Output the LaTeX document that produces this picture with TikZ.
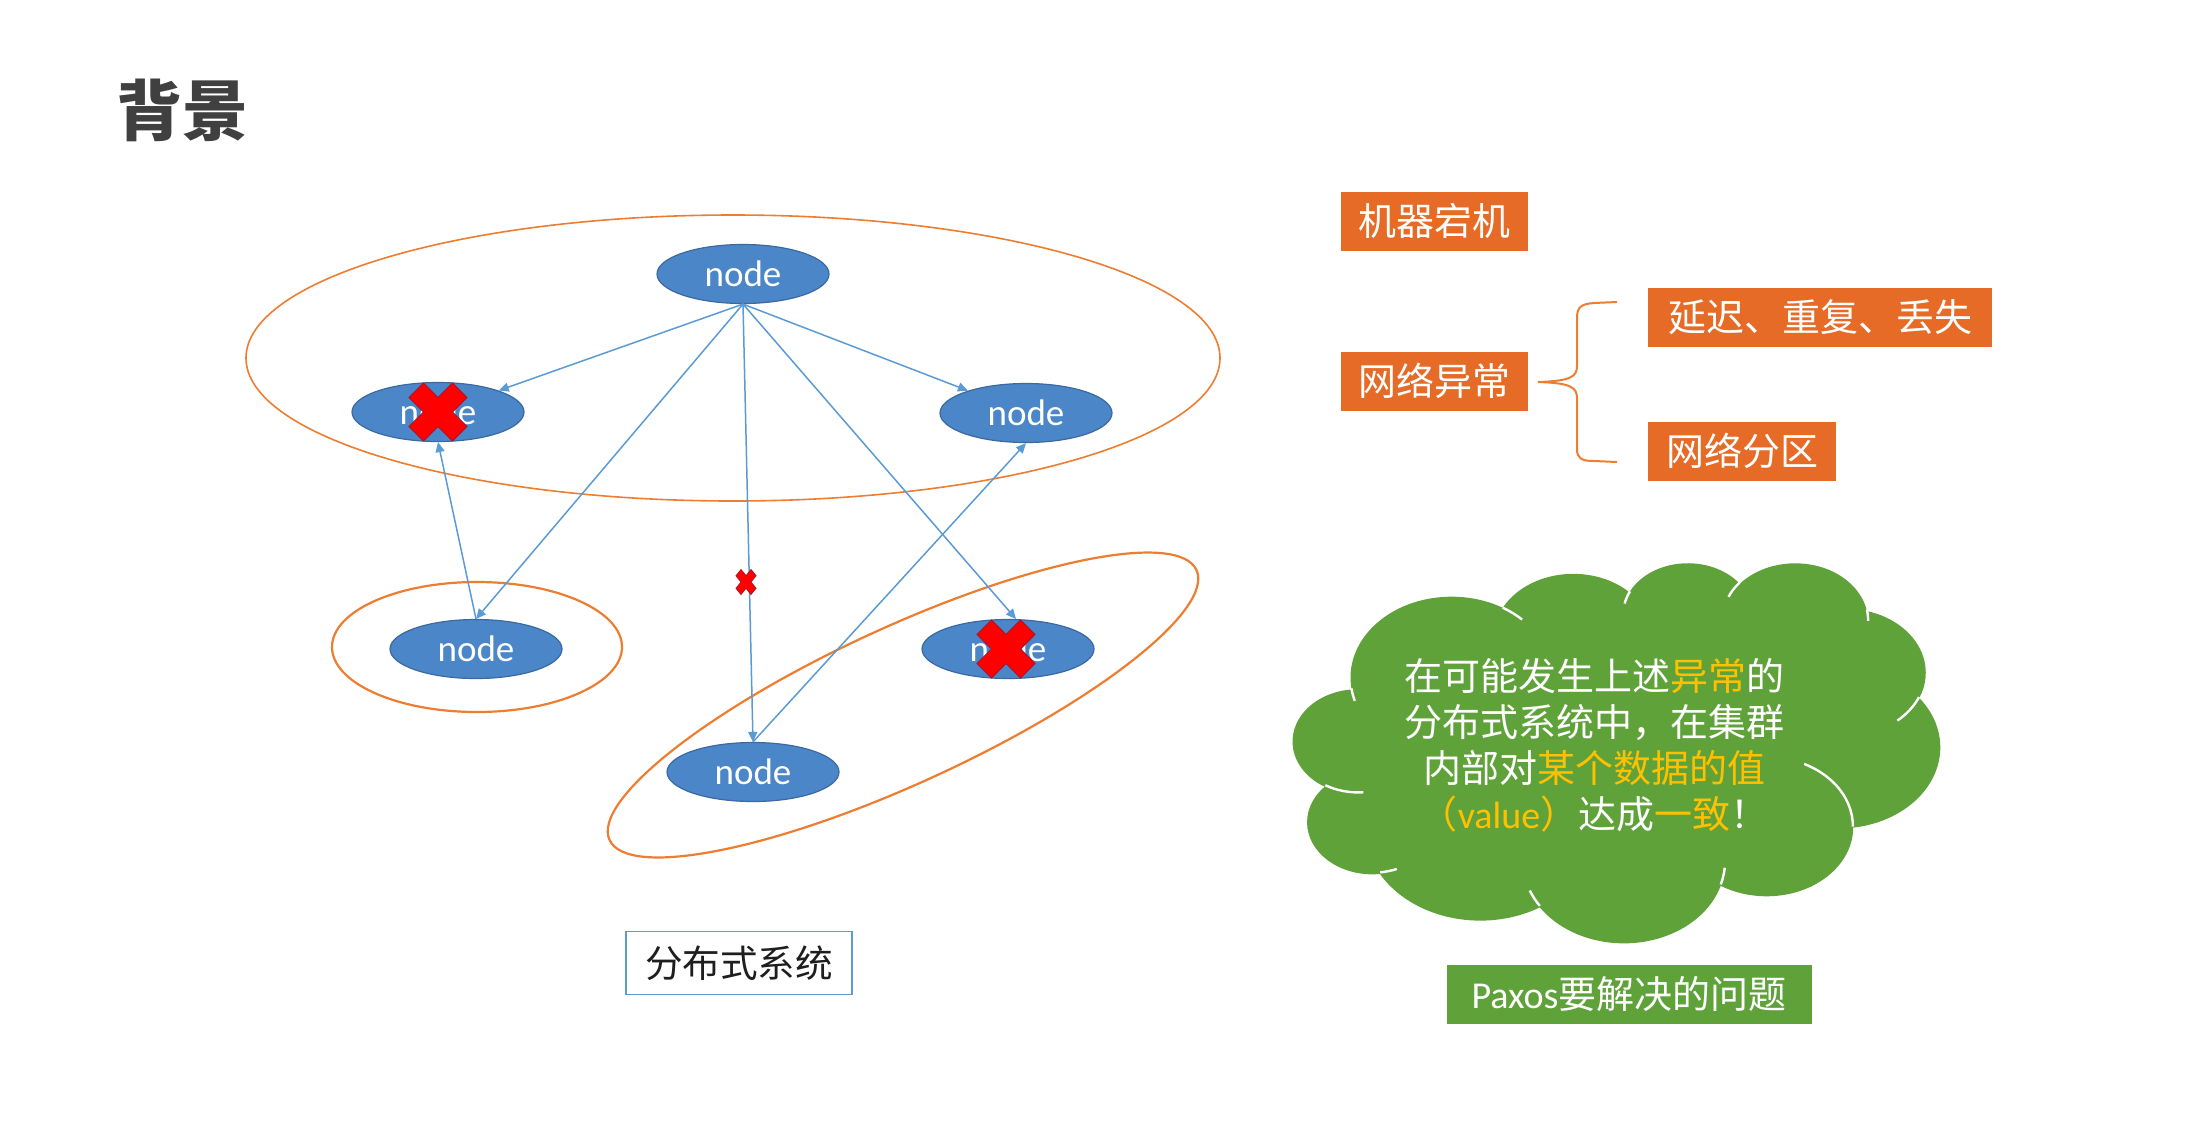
\documentclass[tikz,border=0pt]{standalone}
\usepackage{fontspec}
\setmainfont{Carlito}
\newfontfamily\lat{Carlito}
\newfontfamily\cjk{Noto Sans CJK SC}
\usetikzlibrary{shapes.geometric,arrows.meta}
\definecolor{nodeblue}{RGB}{74,134,200}
\definecolor{nodeedge}{RGB}{60,105,160}
\definecolor{linkblue}{RGB}{91,155,213}
\definecolor{ringorange}{RGB}{237,125,49}
\definecolor{boxorange}{RGB}{229,107,38}
\definecolor{cloudgreen}{RGB}{96,162,58}
\definecolor{hiyellow}{RGB}{255,192,0}
\definecolor{xred}{RGB}{255,0,0}
\definecolor{xedge}{RGB}{170,20,40}
\definecolor{titlegray}{RGB}{64,64,64}
\tikzset{
  ndnode/.style={ellipse, fill=nodeblue, draw=nodeedge, line width=0.6pt,
    minimum width=86pt, minimum height=29.5pt, inner sep=0pt, text=white,
    font=\lat\fontsize{18.5}{20}\selectfont},
  link/.style={draw=linkblue, line width=0.75pt, -{Triangle[length=5pt,width=4.5pt]}},
  ring/.style={draw=ringorange, line width=1.1pt},
  obox/.style={fill=boxorange, text=white, font=\cjk\fontsize{19}{22}\selectfont,
    minimum height=29.5pt, inner sep=0pt},
  gbox/.style={fill=cloudgreen, text=white, font=\fontsize{19}{22}\selectfont,
    minimum height=29.5pt, inner sep=0pt},
  bracestyle/.style={draw=ringorange, line width=1pt},
  xshape/.pic={\filldraw[fill=xred, draw=xedge, line width=0.4pt]
    (-1,-0.5) -- (-0.5,-1) -- (0,-0.5) -- (0.5,-1) -- (1,-0.5) -- (0.5,0) --
    (1,0.5) -- (0.5,1) -- (0,0.5) -- (-0.5,1) -- (-1,0.5) -- (-0.5,0) -- cycle;}
}
\begin{document}
\begin{tikzpicture}[x=0.5pt, y=-0.5pt]
\useasboundingbox (0,0) rectangle (2204,1136);
\fill[white] (0,0) rectangle (2204,1136);

% title
\node[text=titlegray, font=\cjk\bfseries\fontsize{33}{36}\selectfont] (title) at (182,110) {背景};

% group rings
\draw[draw=ringorange, line width=0.8pt] (733,358) ellipse [x radius=487, y radius=143];
\draw[ring] (477,647) ellipse [x radius=145, y radius=65];
\node[ring, ellipse, rotate=24.7, minimum width=323pt, minimum height=78pt, inner sep=0pt] (grp) at (903,705) {};

% nodes
\node[ndnode] (top) at (743,274) {node};
\node[ndnode] (left) at (438,412) {node};
\node[ndnode] (right) at (1026,413) {node};
\node[ndnode] (ll) at (476,649) {node};
\node[ndnode] (lr) at (1008,649) {node};
\node[ndnode] (bot) at (753,772) {node};

% connectors
\draw[link] (top.south) -- (left);
\draw[link] (top.south) -- (right);
\draw[link] (top.south) -- (ll.north);
\draw[link] (top.south) -- (bot.north);
\draw[link] (top.south) -- (lr.75);
\draw[link] (ll.north) -- (left.south);
\draw[link] (bot.north) -- (right.south);

% failure marks
\pic[scale=29] at (438,412) {xshape};
\pic[scale=29] at (1006,649) {xshape};
\pic[xscale=10, yscale=12.5] at (746,582) {xshape};

% label
\node[draw=linkblue, line width=0.75pt, minimum width=113pt, minimum height=31.5pt, inner sep=0pt,
  text={rgb,255:red,30;green,30;blue,30}, font=\cjk\fontsize{18.8}{22}\selectfont] (sys) at (739,963) {分布式系统};

% orange boxes
\node[obox, minimum width=93.5pt] (crash) at (1434,221) {机器宕机};
\node[obox, minimum width=93.5pt] (net) at (1434,381) {网络异常};
\node[obox, minimum width=172pt] (delay) at (1820,317) {延迟、重复、丢失};
\node[obox, minimum width=94pt] (part) at (1742,451) {网络分区};

% brace
\draw[bracestyle] (1617,302) -- (1594,303) .. controls (1581,304) and (1577,307) .. (1577,318)
  -- (1577,366) .. controls (1577,377) and (1570,381) .. (1538,382)
  .. controls (1570,383) and (1577,387) .. (1577,398)
  -- (1577,449) .. controls (1577,458) and (1581,461) .. (1594,461) -- (1617,462);

% cloud
\begin{scope}[shift={(646.5pt,-281pt)}, x=0.74884pt, y=-0.43981pt]
\fill[cloudgreen] (39.00,143.70)
 arc[start angle=-187.75, end angle=-59.63, x radius=67.53, y radius=91.90]
 arc[start angle=-152.03, end angle=-45.45, x radius=53.33, y radius=72.67]
 arc[start angle=-153.49, end angle=-37.34, x radius=43.65, y radius=59.45]
 arc[start angle=-139.72, end angle=-10.22, x radius=48.57, y radius=65.95]
 arc[start angle=-74.77, end angle=23.21, x radius=53.33, y radius=72.73]
 arc[start angle=-37.53, end angle=81.86, x radius=67.75, y radius=92.20]
 arc[start angle=0.46, end angle=121.98, x radius=57.85, y radius=78.67]
 arc[start angle=16.85, end angle=146.22, x radius=67.52, y radius=92.15]
 arc[start angle=58.98, end angle=150.20, x radius=77.20, y radius=105.43]
 arc[start angle=-276.69, end angle=-136.88, x radius=43.60, y radius=59.18]
 arc[start angle=-239.64, end angle=-95.89, x radius=43.45, y radius=59.45]
 -- cycle;
\draw[white, line width=1.2pt]
 (46.93,261.77) arc[start angle=85.54, end angle=120.36, x radius=43.45, y radius=59.45]
 (69.28,348.99) arc[start angle=68.23, end angle=83.31, x radius=43.60, y radius=59.18]
 (164.78,390.90) arc[start angle=146.22, end angle=158.47, x radius=67.52, y radius=92.15]
 (288.27,347.51) arc[start angle=4.74, end angle=16.85, x radius=67.52, y radius=92.15]
 (341.29,229.54) arc[start angle=-64.03, end angle=0.46, x radius=57.85, y radius=78.67]
 (417.98,153.54) arc[start angle=23.21, end angle=49.65, x radius=53.33, y radius=72.73]
 (383.24,54.26) arc[start angle=-10.21, end angle=0.82, x radius=48.57, y radius=65.95]
 (290.78,39.52) arc[start angle=-156.29, end angle=-139.72, x radius=48.57, y radius=65.95]
 (221.41,47.20) arc[start angle=-167.72, end angle=-153.49, x radius=43.65, y radius=59.45]
 (140.00,51.92) arc[start angle=-59.63, end angle=-45.74, x radius=67.53, y radius=91.90]
 (41.27,157.89) arc[start angle=163.20, end angle=172.25, x radius=67.53, y radius=91.90];
\end{scope}
\node[align=center, text=white, font=\cjk\fontsize{19}{23}\selectfont] (goal) at (1594,745)
 {在可能发生上述{\color{hiyellow}异常}的\\
  分布式系统中，在集群\\
  内部对{\color{hiyellow}某个数据的值}\\
  {\color{hiyellow}（{\lat value}）}达成{\color{hiyellow}一致}！};

\node[gbox, minimum width=182.5pt] (paxos) at (1629,994) {{\lat Paxos}{\cjk 要解决的问题}};
\end{tikzpicture}
\end{document}
